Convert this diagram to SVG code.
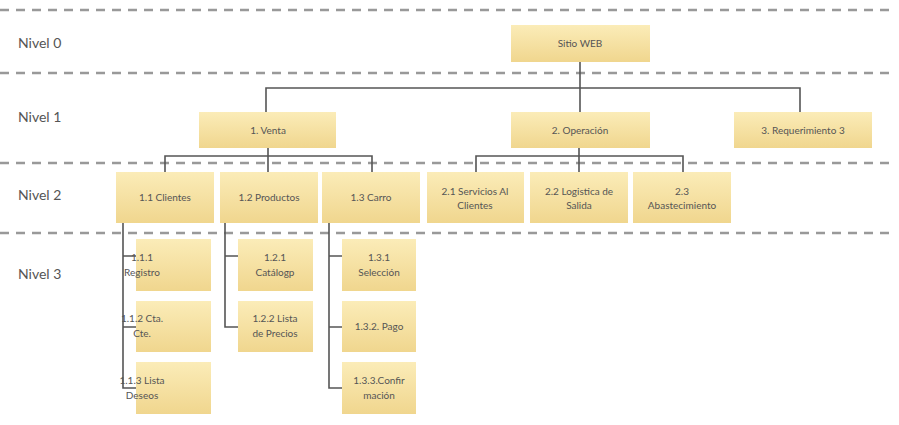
<svg xmlns="http://www.w3.org/2000/svg" width="899" height="425" viewBox="0 0 899 425">
<defs>
<linearGradient id="g" x1="0" y1="0" x2="0" y2="1"><stop offset="0" stop-color="#fbecb8"/><stop offset="1" stop-color="#f0d68e"/></linearGradient>
<style>
.b{fill:url(#g)}
.t{font-family:"Lato","Liberation Sans",sans-serif;font-size:10px;fill:#555;text-anchor:middle}
.lv{font-family:"Lato","Liberation Sans",sans-serif;font-size:14px;fill:#555}
.d{stroke:#999;stroke-width:2.5;stroke-dasharray:9 7}
.c{stroke:#555;stroke-width:1.6;fill:none}
</style>
</defs>
<rect width="899" height="425" fill="#fff"/>
<g id="guides">
<line class="d" x1="0" y1="10" x2="890" y2="10"/>
<line class="d" x1="0" y1="73" x2="890" y2="73"/>
<line class="d" x1="0" y1="163" x2="890" y2="163"/>
<line class="d" x1="0" y1="233" x2="890" y2="233"/>
<text class="lv" x="18" y="48">Nivel 0</text>
<text class="lv" x="18" y="122">Nivel 1</text>
<text class="lv" x="18" y="200">Nivel 2</text>
<text class="lv" x="18" y="279">Nivel 3</text>
</g>
<g id="connectors">
<path class="c" d="M580 62V112M266 112V88H800V112"/>
<path class="c" d="M268 148V156M165 172V156H372V172M268 156V172"/>
<path class="c" d="M579 148V172M476 172V156H683V172"/>
<path class="c" d="M123 223V388H136M123 256H136M123 327H136"/>
<path class="c" d="M225 223V327H238M225 256H238"/>
<path class="c" d="M329 223V388H342M329 256H342M329 327H342"/>
</g>
<g id="n0"><rect class="b" x="511" y="25" width="139" height="37"/><text class="t" x="580" y="47">Sitio WEB</text></g>
<g id="n1"><rect class="b" x="199" y="112" width="137" height="36"/><text class="t" x="268" y="134">1. Venta</text></g>
<g id="n2"><rect class="b" x="511" y="112" width="139" height="36"/><text class="t" x="580" y="134">2. Operación</text></g>
<g id="n3"><rect class="b" x="734" y="112" width="138" height="36"/><text class="t" x="803" y="134">3. Requerimiento 3</text></g>
<g id="n11"><rect class="b" x="116" y="172" width="98" height="51"/><text class="t" x="165" y="201">1.1 Clientes</text></g>
<g id="n12"><rect class="b" x="220" y="172" width="98" height="51"/><text class="t" x="269" y="201">1.2 Productos</text></g>
<g id="n13"><rect class="b" x="322" y="172" width="98" height="51"/><text class="t" x="371" y="201">1.3 Carro</text></g>
<g id="n21"><rect class="b" x="427" y="172" width="97" height="51"/><text class="t" x="475" y="195">2.1 Servicios Al<tspan x="475" dy="14">Clientes</tspan></text></g>
<g id="n22"><rect class="b" x="530" y="172" width="98" height="51"/><text class="t" x="579" y="195">2.2 Logistica de<tspan x="579" dy="14">Salida</tspan></text></g>
<g id="n23"><rect class="b" x="633" y="172" width="98" height="51"/><text class="t" x="682" y="195">2.3<tspan x="682" dy="14">Abastecimiento</tspan></text></g>
<g id="n111"><rect class="b" x="136" y="239" width="75" height="52"/><text class="t" x="142" y="261" text-anchor="start">1.1.1<tspan x="142" dy="15">Registro</tspan></text></g>
<g id="n112"><rect class="b" x="136" y="301" width="75" height="51"/><text class="t" x="142" y="322" text-anchor="start">1.1.2 Cta.<tspan x="142" dy="15">Cte.</tspan></text></g>
<g id="n113"><rect class="b" x="136" y="362" width="75" height="52"/><text class="t" x="142" y="384" text-anchor="start">1.1.3 Lista<tspan x="142" dy="15">Deseos</tspan></text></g>
<g id="n121"><rect class="b" x="238" y="239" width="75" height="52"/><text class="t" x="275" y="261">1.2.1<tspan x="275" dy="15">Catálogp</tspan></text></g>
<g id="n122"><rect class="b" x="238" y="301" width="75" height="51"/><text class="t" x="275" y="322">1.2.2 Lista<tspan x="275" dy="15">de Precios</tspan></text></g>
<g id="n131"><rect class="b" x="342" y="239" width="74" height="52"/><text class="t" x="379" y="261">1.3.1<tspan x="379" dy="15">Selección</tspan></text></g>
<g id="n132"><rect class="b" x="342" y="301" width="74" height="51"/><text class="t" x="379" y="330">1.3.2. Pago</text></g>
<g id="n133"><rect class="b" x="342" y="362" width="74" height="52"/><text class="t" x="379" y="384">1.3.3.Confir<tspan x="379" dy="15">mación</tspan></text></g>
</svg>
